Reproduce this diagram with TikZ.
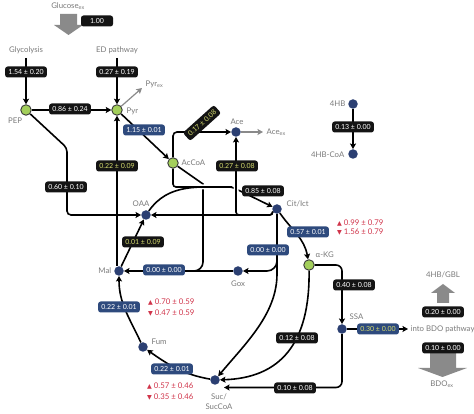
\documentclass[tikz,border=0pt]{standalone}
\usepackage{fontspec}
\setmainfont{Lato}
\newfontfamily\symf{DejaVu Sans}
\usetikzlibrary{arrows.meta,calc}
\pgfdeclarelayer{background}
\pgfsetlayers{background,main}
\definecolor{boxblack}{HTML}{141414}
\definecolor{boxnavy}{HTML}{2E4A7D}
\definecolor{dotnavy}{HTML}{2B3F72}
\definecolor{dotgreen}{HTML}{A3CF5B}
\definecolor{dotline}{HTML}{3A3A3A}
\definecolor{yellowtext}{HTML}{D6DC6E}
\definecolor{labgray}{HTML}{7A7A7A}
\definecolor{redtxt}{HTML}{D0344A}
\definecolor{arrgray}{HTML}{8A8A8A}
\newcommand\trisym[1]{{\symf\fontsize{6.2}{8}\selectfont #1}}
\tikzset{
  every node/.style={font=\fontsize{7.8}{9}\selectfont},
  lab/.style={text=labgray, inner sep=0.5pt},
  val/.style={rounded corners=2.5pt, inner xsep=3.2pt, inner ysep=0pt, minimum height=11pt, font=\fontsize{7}{8}\selectfont, text=white},
  bk/.style={val, fill=boxblack},
  nv/.style={val, fill=boxnavy},
  yl/.style={text=yellowtext},
  ndot/.style={circle, minimum size=9.5pt, inner sep=0pt, fill=dotnavy},
  gdot/.style={circle, minimum size=10.5pt, inner sep=0pt, fill=dotgreen, draw=dotline, line width=0.9pt},
  ln/.style={line width=1.6pt, draw=black},
  arr/.style={ln, -{Stealth[length=5.5pt,width=6pt,inset=1pt]}},
  garr/.style={line width=1.2pt, draw=arrgray, -{Stealth[length=5.5pt,width=6pt,inset=1pt]}},
  rtx/.style={text=redtxt, anchor=west, inner sep=0pt, font=\fontsize{7.8}{9}\selectfont},
  halo/.style={preaction={draw=white, line width=5pt, -}},
}
\begin{document}
\begin{tikzpicture}[x=1pt,y=1pt]
\useasboundingbox (0,0) rectangle (474,414);
% big gray arrows
\fill[arrgray] (60,400) -- (77,400) -- (77,389) -- (83,389) -- (68.5,379) -- (54,389) -- (60,389) -- cycle;
\fill[arrgray] (437,111) -- (449,111) -- (449,121) -- (455,121) -- (443,130) -- (431,121) -- (437,121) -- cycle;
\fill[arrgray] (430,61) -- (456,61) -- (456,46) -- (467,46) -- (442.5,37) -- (418,46) -- (430,46) -- cycle;
% nodes
\node[lab] (lglc) at (68,408) {Glucose\textsubscript{ex}};
\node[bk, minimum width=32pt] (b100) at (97,393) {1.00};
\node[lab] (lgly) at (26,364) {Glycolysis};
\node[lab] (led) at (117,364) {ED pathway};
\node[gdot] (pep) at (26,304) {};
\node[gdot] (pyr) at (117,304) {};
\node[lab] (lpep) at (15,293) {PEP};
\node[lab, anchor=west] (lpyr) at (126,303) {Pyr};
\node[lab, anchor=west] (lpyrex) at (145,330) {Pyr\textsubscript{ex}};
\coordinate (pyrex) at (142,326);
\coordinate (gly) at (26,356);
\coordinate (ed) at (117,356);
\coordinate (p1) at (67,266);
\coordinate (p2) at (67,199);
\node[bk] (b154) at (26,342) {1.54 ± 0.20};
\node[bk] (b027) at (117,342) {0.27 ± 0.19};
\node[bk] (b086) at (70,305) {0.86 ± 0.24};
\node[nv] (b115) at (144,284) {1.15 ± 0.01};
\node[gdot] (acc) at (173,251) {};
\node[lab, anchor=west] (lacc) at (181,251) {AcCoA};
\node[ndot] (ace) at (236,282) {};
\node[lab] (lace) at (237,292) {Ace};
\coordinate (aceex) at (263,282);
\node[lab, anchor=west] (laceex) at (266,282) {Ace\textsubscript{ex}};
\node[bk, yl, rotate=42] (b017) at (202,291) {0.17 ± 0.08};
\node[ndot] (oaa) at (146,199) {};
\node[lab] (loaa) at (141,210) {OAA};
\node[ndot] (cit) at (277,205) {};
\node[lab, anchor=west] (lcit) at (286,210) {Cit/Ict};
\coordinate (cs1) at (232,227);
\coordinate (cA) at (236,199);
\coordinate (gl1) at (203,230);
\coordinate (gl2) at (203,143);
\coordinate (gl3) at (188,143);
\coordinate (cs2) at (277,140);
\node[bk, yl] (b027b) at (237,248) {0.27 ± 0.08};
\node[bk] (b085) at (263,223) {0.85 ± 0.08};
\node[ndot] (mal) at (119,143) {};
\node[lab, anchor=east] (lmal) at (112,143) {Mal};
\node[ndot] (gox) at (238,143) {};
\node[lab] (lgox) at (238,130) {Gox};
\node[nv] (b000a) at (164,144) {0.00 ± 0.00};
\node[nv] (b000b) at (268,164) {0.00 ± 0.00};
\node[bk, yl] (b022a) at (117,248) {0.22 ± 0.09};
\node[bk] (b060) at (66,227) {0.60 ± 0.10};
\node[bk, yl] (b001) at (143,172) {0.01 ± 0.09};
\node[ndot] (fum) at (143,67) {};
\node[lab, anchor=west] (lfum) at (151,72) {Fum};
\node[nv] (b022b) at (119,107) {0.22 ± 0.01};
\node[rtx] (r1a) at (148,112) {\trisym{▲} 0.70 ± 0.59};
\node[rtx] (r1b) at (148,101) {\trisym{▼} 0.47 ± 0.59};
\node[ndot] (suc) at (215,34) {};
\node[lab, align=center, font=\fontsize{7.8}{10}\selectfont] (lsuc) at (219,12) {Suc/\\SucCoA};
\node[nv] (b022c) at (172,45) {0.22 ± 0.01};
\node[rtx] (r2a) at (147,28) {\trisym{▲} 0.57 ± 0.46};
\node[rtx] (r2b) at (147,17) {\trisym{▼} 0.35 ± 0.46};
\node[gdot] (akg) at (309,149) {};
\node[lab, anchor=west] (lakg) at (315,159) {α-KG};
\node[nv] (b057) at (308,182) {0.57 ± 0.01};
\node[rtx] (r3a) at (337,191) {\trisym{▲} 0.99 ± 0.79};
\node[rtx] (r3b) at (337,182) {\trisym{▼} 1.56 ± 0.79};
\node[bk] (b040) at (354,129) {0.40 ± 0.08};
\node[ndot] (ssa) at (342,85) {};
\node[lab, anchor=west] (lssa) at (349,97) {SSA};
\node[nv, yl] (b030) at (378,85) {0.30 ± 0.00};
\coordinate (bdo) at (408,85);
\node[lab, anchor=west] (lbdo) at (410,85) {into BDO pathway};
\node[bk] (b012) at (297,76) {0.12 ± 0.08};
\node[bk] (b010) at (295,26) {0.10 ± 0.08};
\coordinate (sucS) at (224,26.5);
\node[ndot] (hb) at (353,310) {};
\node[lab, anchor=east] (lhb) at (346,310) {4HB};
\node[ndot] (hbcoa) at (353,260) {};
\node[lab, anchor=east] (lhbcoa) at (345,259) {4HB-CoA};
\node[bk] (b013) at (353,287) {0.13 ± 0.00};
\node[lab] (lgbl) at (443,139) {4HB/GBL};
\node[bk] (b020) at (443,102) {0.20 ± 0.00};
\node[bk] (b010b) at (443,66) {0.10 ± 0.00};
\node[lab] (lbdoex) at (442,30) {BDO\textsubscript{ex}};
% connectors
\begin{pgfonlayer}{background}
\draw[arr] (gly) -- (pep);
\draw[arr] (ed) -- (pyr);
\draw[arr] (pep) -- (pyr);
\draw[garr] (pyr) -- (pyrex);
\draw[arr, rounded corners=4pt] (pep) -- (p1) -- (p2) -- (oaa);
\draw[arr] (mal.north -| pyr) -- (pyr);
\draw[arr] (mal) -- (oaa);
\draw[arr] (pyr) -- (acc);
\draw[ln] (acc) -- (gl1) [rounded corners=9pt] -- (gl2) -- (gl3);
\draw[arr] (gox) -- (mal);
\draw[arr, halo, rounded corners=3pt] (acc) |- (cs1) -- (cit);
\draw[ln] (oaa) to[out=55,in=180] (cs1);
\draw[arr, halo, rounded corners=3pt] (cit.210) |- (cA) -- (ace);
\draw[arr, rounded corners=4pt] (acc) |- (ace);
\draw[garr] (ace) -- (aceex);
\draw[arr, rounded corners=3pt] (cit.210) |- (oaa);
\draw[arr, rounded corners=10pt] (cit) |- (gox);
\draw[arr] (cit.south) -- (cs2) .. controls (277,100) and (245,70) .. (suc);
\draw[arr] (cit) to[out=-55,in=100] (akg);
\draw[arr, rounded corners=6pt] (akg) -| (ssa);
\draw[arr] (akg) .. controls (310,70) and (280,36) .. (suc);
\draw[arr, rounded corners=6pt] (ssa) |- (sucS);
\draw[arr] (ssa) -- (bdo);
\draw[arr] (fum) to[out=115,in=-90] (mal);
\draw[arr] (suc) to[out=170,in=-35] (fum);
\draw[arr] (hb) -- (hbcoa);
\end{pgfonlayer}
\end{tikzpicture}
\end{document}
